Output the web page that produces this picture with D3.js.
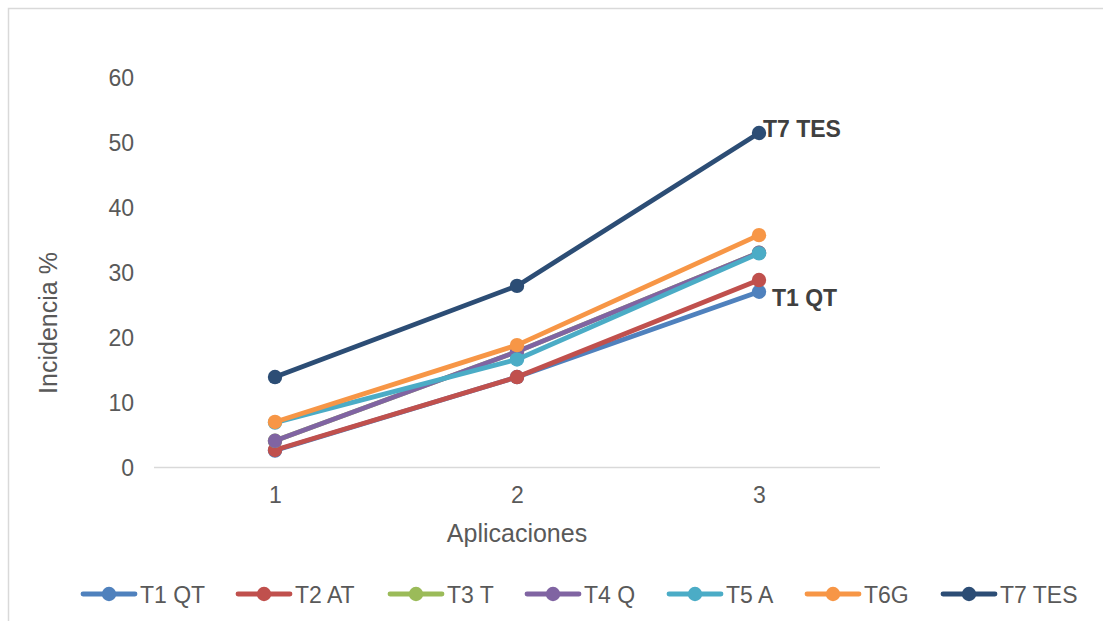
<!DOCTYPE html>
<html>
<head>
<meta charset="utf-8">
<script src="https://cdn.jsdelivr.net/npm/d3@7"></script>
<style>
  html, body { margin: 0; padding: 0; background: #fff; }
  svg { display: block; }
  svg text { font-family: "Liberation Sans", Arial, sans-serif; }
</style>
</head>
<body>
<svg id="chart" width="1103" height="621"></svg>
<script>
// Applications (x categories)
const categories = ["1", "2", "3"];
// Series names and colours
const seriesNames = ["T1 QT", "T2 AT", "T3 T", "T4 Q", "T5 A", "T6G", "T7 TES"];
const seriesColors = ["#4F81BD", "#C0504D", "#9BBB59", "#8064A2", "#4BACC6", "#F79646", "#2C4D75"];
// Incidence % per application
const t1 = [2.6, 13.9, 27.0];
const t2 = [2.7, 13.9, 28.8];
const t3 = [4.1, 17.8, 33.0];
const t4 = [4.1, 17.8, 33.0];
const t5 = [6.9, 16.6, 32.9];
const t6 = [7.0, 18.8, 35.7];
const t7 = [13.9, 27.9, 51.4];
const yTicks = [0, 10, 20, 30, 40, 50, 60];
// Series that carry an end label
const endLabels = ["T7 TES", "T1 QT"];

const seriesValues = [t1, t2, t3, t4, t5, t6, t7];
const series = seriesNames.map((name, i) => ({
  name, color: seriesColors[i],
  values: categories.map((c, j) => ({ c, v: seriesValues[i][j] }))
}));

const svg = d3.select("#chart");
const textColor = "#595959";
const fontFamily = "Liberation Sans, Arial, sans-serif";

// Outer chart frame
svg.append("path")
  .attr("d", "M8.5,621 V8.5 H1103")
  .attr("fill", "none").attr("stroke", "#d9d9d9").attr("stroke-width", 1.5);

const x = d3.scalePoint().domain(categories).range([154, 880]).padding(0.5);
const y = d3.scaleLinear().domain([0, 60]).range([467.5, 77]);

// Y axis tick labels (no axis line)
const yAxis = svg.append("g").attr("transform", "translate(134,0)")
  .call(d3.axisLeft(y).tickValues(yTicks).tickSize(0).tickPadding(0));
yAxis.select(".domain").remove();
yAxis.selectAll("text").attr("fill", textColor).attr("font-size", 23)
  .attr("font-family", fontFamily).attr("dy", "0.36em");

// X axis line and labels
const xAxis = svg.append("g").attr("transform", `translate(0,${y(0)})`)
  .call(d3.axisBottom(x).tickSize(0).tickPadding(19));
xAxis.select(".domain").attr("stroke", "#d9d9d9").attr("stroke-width", 1.3)
  .attr("d", "M154,0H880");
xAxis.selectAll("text").attr("fill", textColor).attr("font-size", 23)
  .attr("font-family", fontFamily);

// Axis titles
svg.append("text").attr("x", 517).attr("y", 542).attr("text-anchor", "middle")
  .attr("fill", textColor).attr("font-size", 25).text("Aplicaciones");
svg.append("text").attr("transform", "translate(57,323) rotate(-90)")
  .attr("text-anchor", "middle").attr("fill", textColor).attr("font-size", 25)
  .text("Incidencia %");

// Lines and markers
const line = d3.line().x(d => x(d.c)).y(d => y(d.v));
const g = svg.append("g");
series.forEach(s => {
  g.append("path").datum(s.values).attr("d", line)
    .attr("fill", "none").attr("stroke", s.color).attr("stroke-width", 4.8)
    .attr("stroke-linejoin", "round").attr("stroke-linecap", "round");
  g.selectAll(null).data(s.values).enter().append("circle")
    .attr("cx", d => x(d.c)).attr("cy", d => y(d.v)).attr("r", 7.2)
    .attr("fill", s.color);
});

// End labels
const labelOffset = { "T7 TES": [4, 4], "T1 QT": [13, 14] };
series.filter(s => endLabels.includes(s.name)).forEach(s => {
  const last = s.values[s.values.length - 1];
  svg.append("text").attr("x", x(last.c) + labelOffset[s.name][0])
    .attr("y", y(last.v) + labelOffset[s.name][1])
    .attr("fill", "#404040").attr("font-size", 23).attr("font-weight", "bold")
    .text(s.name);
});

// Legend
const legendX = [81, 236, 388, 525, 667, 805, 941];
const legend = svg.append("g").attr("transform", "translate(0,594)");
series.forEach((s, i) => {
  const lg = legend.append("g").attr("transform", `translate(${legendX[i]},0)`);
  lg.append("line").attr("x1", 2).attr("x2", 54).attr("y1", 0).attr("y2", 0)
    .attr("stroke", s.color).attr("stroke-width", 4.8).attr("stroke-linecap", "round");
  lg.append("circle").attr("cx", 28).attr("cy", 0).attr("r", 7.2).attr("fill", s.color);
  lg.append("text").attr("x", 59).attr("y", 9).attr("fill", textColor)
    .attr("font-size", 23).text(s.name);
});
</script>
</body>
</html>
